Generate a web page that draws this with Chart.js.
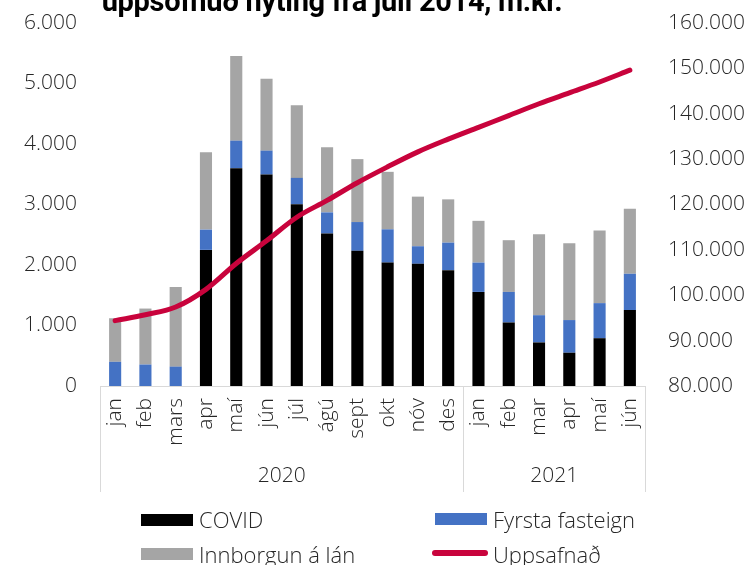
<!DOCTYPE html>
<html>
<head>
<meta charset="utf-8">
<script src="https://cdn.jsdelivr.net/npm/chart.js@4/dist/chart.umd.min.js"></script>
<style>
  html, body { margin: 0; padding: 0; background: #fff; }
  body { width: 751px; height: 565px; overflow: hidden; position: relative; font-family: 'Open Sans', sans-serif; }
  #wrap { position: absolute; left: 0; top: 0; width: 751px; height: 565px; }
  #title { position: absolute; left: 0; width: 664px; text-align: center; top: -16px; line-height: 29px;
           font: 700 29px 'Roboto', sans-serif; color: #000; white-space: nowrap; letter-spacing: -0.3px; }
  .lg { position: absolute; font-size: 22px; font-weight: 300; color: #262626; white-space: nowrap; line-height: 24px; }
  .sw { position: absolute; }
</style>
</head>
<body>
<div id="wrap"><canvas id="chart" width="751" height="565"></canvas></div>
<div id="title">uppsöfnuð nýting frá júlí 2014, m.kr.</div>
<div id="legend"></div>
<script>
// Mánuðir og ár
const manudir = ["jan", "feb", "mars", "apr", "maí", "jún", "júl", "ágú", "sept", "okt", "nóv", "des",
                 "jan", "feb", "mar", "apr", "maí", "jún"];
const ar = [
    { label: "2020", from: 0, to: 11 },
    { label: "2021", from: 12, to: 17 }
];

// m.kr. á mánuði (vinstri ás)
const covid      = [0, 0, 0, 2250, 3600, 3495, 3005, 2520, 2235, 2040, 2020, 1915, 1555, 1050, 720, 550, 790, 1255];
const fyrsta     = [400, 355, 320, 335, 455, 395, 435, 350, 475, 550, 290, 455, 485, 505, 450, 540, 580, 600];
const innborgun  = [720, 925, 1315, 1280, 1400, 1190, 1200, 1075, 1040, 950, 820, 715, 690, 855, 1340, 1270, 1200, 1075];

// Uppsafnað (hægri ás)
const uppsafnad  = [94400, 95700, 97400, 101300, 107000, 112000, 117200, 120900, 124800, 128300,
                    131600, 134400, 137000, 139600, 142200, 144600, 147000, 149600];

const vinstriTicks = { min: 0, max: 6000, step: 1000 };
const haegriTicks  = { min: 80000, max: 160000, step: 10000 };

const FONT = "'Open Sans', sans-serif";
const TEXT = "#262626";
const LINA = "#d9d9d9";

function fmt(v) {
    return String(v).replace(/\B(?=(\d{3})+(?!\d))/g, ".");
}

// Fast breidd á lóðréttum ásum, engin auka padding ofan/neðan
function fastBreidd(w) {
    return s => { s.width = w; s.paddingTop = 0; s.paddingBottom = 0; };
}

// Ár-flokkar undir x-ásnum, með lóðréttum skilum
const arPlugin = {
    id: "arPlugin",
    afterDraw(chart) {
        const { ctx, scales: { x } } = chart;
        const step = x.getPixelForValue(1) - x.getPixelForValue(0);
        const top = x.top, bottom = x.bottom;
        ctx.save();
        ctx.strokeStyle = LINA;
        ctx.lineWidth = 1;
        const edges = [x.getPixelForValue(0) - step / 2];
        ar.forEach(a => edges.push(x.getPixelForValue(a.to) + step / 2));
        ctx.beginPath();
        edges.forEach(e => {
            const px = Math.round(e) + 0.5;
            ctx.moveTo(px, top);
            ctx.lineTo(px, bottom);
        });
        ctx.stroke();
        ctx.fillStyle = TEXT;
        ctx.font = "300 21px " + FONT;
        ctx.textAlign = "center";
        ctx.textBaseline = "middle";
        ar.forEach(a => {
            const cx = (x.getPixelForValue(a.from) + x.getPixelForValue(a.to)) / 2;
            ctx.fillText(a.label, cx, top + 90);
        });
        ctx.restore();
    }
};

const chart = new Chart(document.getElementById("chart"), {
    data: {
        labels: manudir,
        datasets: [
            { type: "bar", label: "COVID", data: covid, backgroundColor: "#000000", yAxisID: "y", order: 1,
              barPercentage: 0.4, categoryPercentage: 1 },
            { type: "bar", label: "Fyrsta fasteign", data: fyrsta, backgroundColor: "#4472C4", yAxisID: "y", order: 1,
              barPercentage: 0.4, categoryPercentage: 1 },
            { type: "bar", label: "Innborgun á lán", data: innborgun, backgroundColor: "#A5A5A5", yAxisID: "y", order: 1,
              barPercentage: 0.4, categoryPercentage: 1 },
            { type: "line", label: "Uppsafnað", data: uppsafnad, borderColor: "#C8033C", backgroundColor: "#C8033C",
              borderWidth: 5, pointRadius: 0, tension: 0.35, borderCapStyle: "round", yAxisID: "y2", order: 0 }
        ]
    },
    options: {
        responsive: false,
        animation: false,
        layout: { padding: { top: 23, bottom: 73, left: 0, right: 0 } },
        plugins: { legend: { display: false }, tooltip: { enabled: false } },
        scales: {
            x: {
                stacked: true,
                grid: { display: false, drawTicks: false },
                border: { display: true, color: LINA, width: 1 },
                ticks: { color: TEXT, font: { family: FONT, size: 21, weight: 300 }, padding: 12,
                         minRotation: 90, maxRotation: 90, autoSkip: false },
                afterFit(s) { s.height = 106; }
            },
            y: {
                stacked: true,
                position: "left",
                min: vinstriTicks.min, max: vinstriTicks.max,
                grid: { display: false, drawTicks: false },
                border: { display: false },
                ticks: { stepSize: vinstriTicks.step, color: TEXT, font: { family: FONT, size: 21, weight: 300 },
                         padding: 23, callback: v => fmt(v) },
                afterFit: fastBreidd(100)
            },
            y2: {
                position: "right",
                min: haegriTicks.min, max: haegriTicks.max,
                grid: { display: false, drawTicks: false },
                border: { display: false },
                ticks: { stepSize: haegriTicks.step, color: TEXT, font: { family: FONT, size: 21, weight: 300 },
                         padding: 23, callback: v => fmt(v) },
                afterFit: fastBreidd(106)
            }
        }
    },
    plugins: [arPlugin]
});

// Skýringar (2 x 2) byggðar úr gagnaröðunum
const legendPos = [
    { sx: 141, sy: 514, tx: 199, ty: 507 },
    { sx: 435, sy: 513, tx: 493, ty: 507 },
    { sx: 141, sy: 548, tx: 199, ty: 542 },
    { sx: 432, sy: 553, tx: 493, ty: 542 }
];
const legendEl = document.getElementById("legend");
chart.data.datasets.forEach((ds, i) => {
    const p = legendPos[i];
    const sw = document.createElement("div");
    sw.className = "sw";
    if (ds.type === "line") {
        sw.style.cssText = `left:${p.sx}px; top:${p.sy - 3}px; width:56px; height:6px; border-radius:3px; background:${ds.borderColor};`;
    } else {
        sw.style.cssText = `left:${p.sx}px; top:${p.sy}px; width:52px; height:12px; background:${ds.backgroundColor};`;
    }
    const tx = document.createElement("div");
    tx.className = "lg";
    tx.style.left = p.tx + "px";
    tx.style.top = p.ty + "px";
    tx.textContent = ds.label;
    legendEl.appendChild(sw);
    legendEl.appendChild(tx);
});
</script>
</body>
</html>
